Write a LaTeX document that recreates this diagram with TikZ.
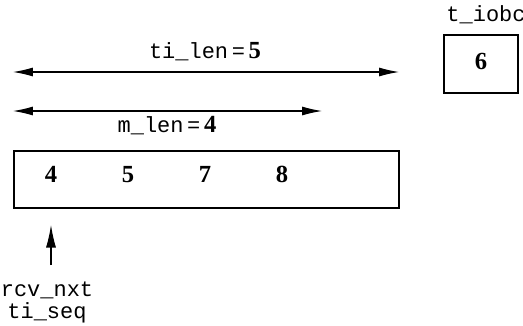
\documentclass[tikz,border=0pt]{standalone}
\usepackage{fontspec}
\setmainfont{Liberation Serif}
\setmonofont{Liberation Mono}
\usetikzlibrary{arrows.meta}

\begin{document}
\begin{tikzpicture}[x=0.02cm, y=-0.02cm]
% Define styles
\tikzset{
  len arrow/.style={{Latex[length=0.4cm,width=0.18cm]}-{Latex[length=0.4cm,width=0.18cm]}, semithick},
  ptr arrow/.style={-{Latex[length=0.45cm,width=0.2cm]}, semithick},
  var label/.style={font=\fontsize{12.5}{14}\selectfont\ttfamily, inner sep=1pt},
  num/.style={font=\fontsize{14}{16}\selectfont\bfseries, inner sep=1pt, text height=1.4ex, text depth=0pt},
  buf box/.style={draw, line width=1pt, inner sep=0pt}
}
\useasboundingbox (0,0) rectangle (523,325);

% Lengths above the buffer
\coordinate (tl) at (13,72);
\coordinate (tr) at (399,72);
\draw[len arrow] (tl) -- (tr);
\node[var label] (tilen) at (205,52) {ti\_len\,=\,{\fontsize{14}{16}\selectfont\bfseries\rmfamily 5}};

\coordinate (ml) at (13,111);
\coordinate (mr) at (322,111);
\draw[len arrow] (ml) -- (mr);
\node[var label] (mlen) at (167,126) {m\_len\,=\,{\fontsize{14}{16}\selectfont\bfseries\rmfamily 4}};

% Reassembly buffer
\node[buf box, minimum width=7.7cm, minimum height=1.14cm, anchor=north west] (buf) at (13,150) {};
\foreach \v/\x in {4/51, 5/128, 7/205, 8/282}
  \node[num] (n\v) at (\x,177) {\v};

% Pointer to the first byte
\coordinate (pbot) at (51,265);
\coordinate (ptop) at (51,225);
\draw[ptr arrow] (pbot) -- (ptop);
\node[var label] (rcv) at (47,290) {rcv\_nxt};
\node[var label] (seq) at (47,313) {ti\_seq};

% Out-of-band byte
\node[var label] (iobclbl) at (486,15) {t\_iobc};
\node[buf box, minimum width=1.48cm, minimum height=1.16cm, num] (iobc) at (481,64) {6};
\end{tikzpicture}
\end{document}
